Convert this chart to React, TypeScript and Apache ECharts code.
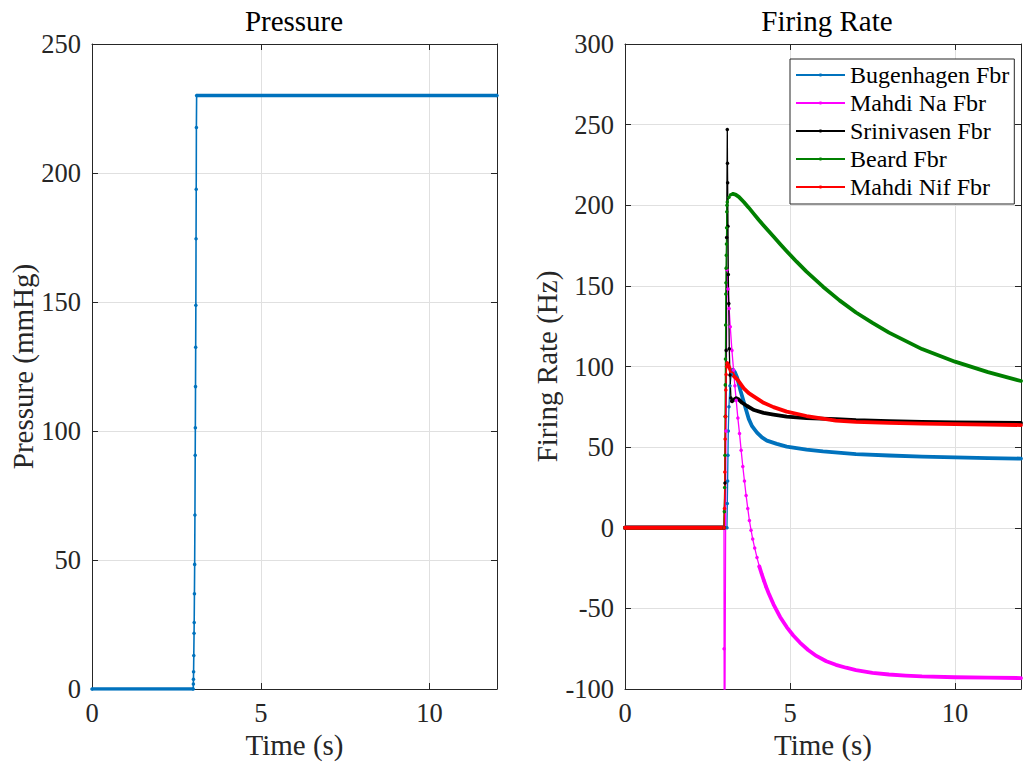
import React, { useEffect, useRef } from 'react';
import * as echarts from 'echarts';

const FONT = "'Liberation Serif', 'Times New Roman', serif";
const AX = '#262626';
const GRIDC = '#e0e0e0';

// ---- Pressure (left) ----
const pressT = [0, 3.0, 3.003, 3.006, 3.01, 3.016, 3.024, 3.028, 3.035, 3.042, 3.05, 3.058, 3.062, 3.067, 3.072, 3.077, 3.083, 3.088, 3.093, 3.1, 12];
const pressV = [0, 0, 1.9, 3.8, 6.7, 13, 21.6, 25.8, 36.9, 48.3, 67.4, 90.6, 101.3, 117.2, 132.5, 148.7, 174.5, 193.7, 217.6, 230, 230];
const pressFlatT = [0, 3.0, 3.1, 12];
const pressFlatV = [0, 0, 230, 230];

// ---- Firing rate (right) ----
const names = ['Bugenhagen Fbr', 'Mahdi Na Fbr', 'Srinivasen Fbr', 'Beard Fbr', 'Mahdi Nif Fbr'];
const colors = ['#0072BD', '#FF00FF', '#000000', '#008000', '#FF0000'];

const zeroT = [0, 3.0];
const zeroV = [0, 0];

const bugT = [3.0, 3.09, 3.1, 3.11, 3.12, 3.13, 3.15, 3.18, 3.22, 3.27];
const bugV = [0, 0, 15, 29, 45, 60, 75, 88, 95, 98];
const bugTailT = [3.27, 3.33, 3.4, 3.5, 3.6, 3.67, 3.75, 3.85, 4.0, 4.15, 4.3, 4.6, 4.9, 5.5, 6, 7, 8, 9, 10, 11, 12];
const bugTailV = [98, 96.5, 93, 85, 78, 73, 67.5, 63, 59, 56, 54, 52, 50.3, 48.5, 47.3, 45.7, 44.8, 44.1, 43.6, 43.2, 42.9];

const naT = [3.0, 3.003, 3.012, 3.06, 3.09, 3.12, 3.155, 3.19, 3.24, 3.29, 3.33, 3.37, 3.42, 3.47, 3.52, 3.57, 3.62, 3.67, 3.72, 3.77, 3.82, 3.87, 3.93, 4.0, 4.07, 4.14, 4.21, 4.28];
const naV = [0, -75, -200, 60, 160, 148, 136, 124.7, 110, 97.8, 88, 79, 68, 58.5, 48, 38, 29, 20, 12, 4.5, -1.5, -7, -12.5, -18.5, -24, -28.5, -32.8, -36.8];
const naTailT = [4.07, 4.14, 4.21, 4.28, 4.35, 4.5, 4.7, 4.9, 5.1, 5.3, 5.55, 5.8, 6.1, 6.39, 6.7, 7, 7.5, 8, 8.5, 9, 10, 11, 12];
const naTailV = [-24, -28.5, -32.8, -36.8, -40.5, -47.5, -55.3, -61.6, -66.8, -71.2, -75.8, -79.5, -82.8, -85, -86.8, -88.3, -90, -91, -91.7, -92.2, -92.7, -93, -93.2];

const srT = [3.0, 3.03, 3.05, 3.065, 3.08, 3.1, 3.105, 3.11, 3.12, 3.13, 3.145, 3.16, 3.18, 3.21, 3.24];
const srV = [0, 27.7, 69, 110, 180, 247, 226, 214, 187, 157, 139, 111, 94.7, 80.5, 78.5];
const srTailT = [3.24, 3.3, 3.37, 3.45, 3.55, 3.7, 3.91, 4.2, 4.5, 4.9, 5.5, 6.39, 7, 8, 9, 10, 11, 12];
const srTailV = [78.5, 79.5, 80.3, 79.5, 77.5, 75.5, 73, 71.2, 70.2, 68.9, 68, 67.4, 66.7, 66.1, 65.7, 65.4, 65.2, 65];

const beT = [3.0, 3.01, 3.02, 3.03, 3.035, 3.04, 3.045, 3.05, 3.055, 3.06, 3.065, 3.07, 3.075, 3.08, 3.085, 3.09, 3.1, 3.15, 3.2, 3.27];
const beV = [0, 10, 25, 45, 69, 88.6, 104.6, 125.7, 145, 152, 161, 169, 176, 186, 196, 200, 202, 205, 206.5, 207];
const beTailT = [3.27, 3.35, 3.45, 3.6, 3.75, 3.91, 4.05, 4.2, 4.35, 4.5, 4.7, 4.9, 5.2, 5.5, 6, 6.5, 7, 7.5, 8, 9, 10, 11, 12];
const beTailV = [207, 206.6, 205.2, 202, 198.5, 194.5, 191, 187.5, 184, 180.6, 176, 171.5, 165, 158.8, 149.5, 141, 133.5, 127, 121, 110.8, 103, 96.5, 91];

const nifT = [3.0, 3.015, 3.025, 3.035, 3.045, 3.055, 3.065, 3.08, 3.1];
const nifV = [0, 12, 34.6, 55, 69, 85.4, 95, 100, 102];
const nifTailT = [3.1, 3.2, 3.3, 3.42, 3.6, 3.75, 3.91, 4.2, 4.5, 4.9, 5.5, 6.39, 7, 8, 9, 10, 11, 12];
const nifTailV = [102, 97.5, 94, 91.6, 86.5, 83.5, 81.3, 77.5, 74.8, 72, 69.3, 66.4, 65.6, 65, 64.6, 64.3, 64, 63.7];

const xTicks = [0, 5, 10];

const thinT = [bugT, naT, srT, beT, nifT];
const thinV = [bugV, naV, srV, beV, nifV];
const tailT = [bugTailT, naTailT, srTailT, beTailT, nifTailT];
const tailV = [bugTailV, naTailV, srTailV, beTailV, nifTailV];

const zip = (t: number[], v: number[]) => t.map((x, i) => [x, v[i]]);

function axesFor(gridIndex: number, min: number, max: number, yName: string, yGap: number) {
  const tickStyle = { show: true, inside: true, length: 6, lineStyle: { color: AX, width: 1 } };
  const line = { show: true, lineStyle: { color: AX, width: 1 } };
  const labelStyle = { fontFamily: FONT, fontSize: 26.5, color: AX };
  const xs = [
    {
      type: 'value', gridIndex, min: 0, max: 12, interval: 5, position: 'bottom',
      axisLine: { ...line, onZero: false }, axisTick: tickStyle,
      axisLabel: { ...labelStyle, margin: 10, formatter: (v: number) => (xTicks.includes(v) ? String(v) : '') },
      splitLine: { show: true, lineStyle: { color: GRIDC, width: 1 } },
      name: 'Time (s)', nameLocation: 'middle', nameGap: 41,
      nameTextStyle: { fontFamily: FONT, fontSize: 29, color: AX },
    },
    {
      type: 'value', gridIndex, min: 0, max: 12, interval: 5, position: 'top',
      axisLine: { ...line, onZero: false }, axisTick: tickStyle,
      axisLabel: { show: false }, splitLine: { show: false },
    },
  ];
  const ys = [
    {
      type: 'value', gridIndex, min, max, interval: 50, position: 'left',
      axisLine: { ...line, onZero: false }, axisTick: tickStyle,
      axisLabel: { ...labelStyle, margin: 11 },
      splitLine: { show: true, lineStyle: { color: GRIDC, width: 1 } },
      name: yName, nameLocation: 'middle', nameGap: yGap,
      nameTextStyle: { fontFamily: FONT, fontSize: 29, color: AX },
    },
    {
      type: 'value', gridIndex, min, max, interval: 50, position: 'right',
      axisLine: { ...line, onZero: false }, axisTick: tickStyle,
      axisLabel: { show: false }, splitLine: { show: false },
    },
  ];
  return { xs, ys };
}

export default function App() {
  const ref = useRef<HTMLDivElement>(null);
  useEffect(() => {
    if (!ref.current) return;
    const chart = echarts.init(ref.current, undefined, { renderer: 'svg' });
    const a = axesFor(0, 0, 250, 'Pressure (mmHg)', 49);
    const b = axesFor(1, -100, 300, 'Firing Rate (Hz)', 62);

    const series: any[] = [
      {
        name: 'Pressure', type: 'line', xAxisIndex: 0, yAxisIndex: 0,
        data: zip(pressT, pressV), symbol: 'circle', symbolSize: 3.5, showAllSymbol: true,
        lineStyle: { color: '#0072BD', width: 1.6 }, itemStyle: { color: '#0072BD' },
      },
      {
        name: 'PressureFlat', type: 'line', xAxisIndex: 0, yAxisIndex: 0,
        data: [...zip(pressFlatT.slice(0, 2), pressFlatV.slice(0, 2)), [3.05, '-'], ...zip(pressFlatT.slice(2), pressFlatV.slice(2))],
        showSymbol: false, lineStyle: { color: '#0072BD', width: 3.5 },
      },
    ];
    names.forEach((n, i) => {
      series.push({
        name: n, type: 'line', xAxisIndex: 2, yAxisIndex: 2,
        data: zip(thinT[i], thinV[i]), symbol: 'circle', symbolSize: 3.5, showAllSymbol: true,
        lineStyle: { color: colors[i], width: 1.3 }, itemStyle: { color: colors[i] },
      });
      series.push({
        name: n + ' tail', type: 'line', xAxisIndex: 2, yAxisIndex: 2,
        data: [...zip(zeroT, zeroV), [3.0, '-'], ...zip(tailT[i], tailV[i])],
        showSymbol: false, lineStyle: { color: colors[i], width: 3.8, join: 'round', cap: 'round' },
      });
    });

    chart.setOption({
      animation: false,
      backgroundColor: '#ffffff',
      grid: [
        { left: 92, right: 527, top: 44, bottom: 78, containLabel: false },
        { left: 625, right: -5, top: 44, bottom: 78, containLabel: false },
      ],
      xAxis: [...a.xs, ...b.xs],
      yAxis: [...a.ys, ...b.ys],
      legend: {
        data: names,
        orient: 'vertical',
        left: 790, top: 59,
        itemWidth: 49, itemHeight: 4, itemGap: 4,
        padding: [4, 5, 5, 5],
        backgroundColor: '#ffffff',
        borderColor: AX, borderWidth: 1, borderRadius: 0,
        textStyle: { fontFamily: FONT, fontSize: 24, color: '#000', lineHeight: 24 },
        selectedMode: false,
      },
      graphic: [
        { type: 'text', x: 294, y: 21, style: { text: 'Pressure', fontFamily: FONT, fontSize: 29, fill: '#000', textAlign: 'center', textVerticalAlign: 'middle' } },
        { type: 'text', x: 827, y: 21, style: { text: 'Firing Rate', fontFamily: FONT, fontSize: 29, fill: '#000', textAlign: 'center', textVerticalAlign: 'middle' } },
      ],
      series,
    });
    return () => chart.dispose();
  }, []);
  return <div ref={ref} style={{ position: 'fixed', left: 0, top: 0, width: 1024, height: 767, background: '#fff' }} />;
}
